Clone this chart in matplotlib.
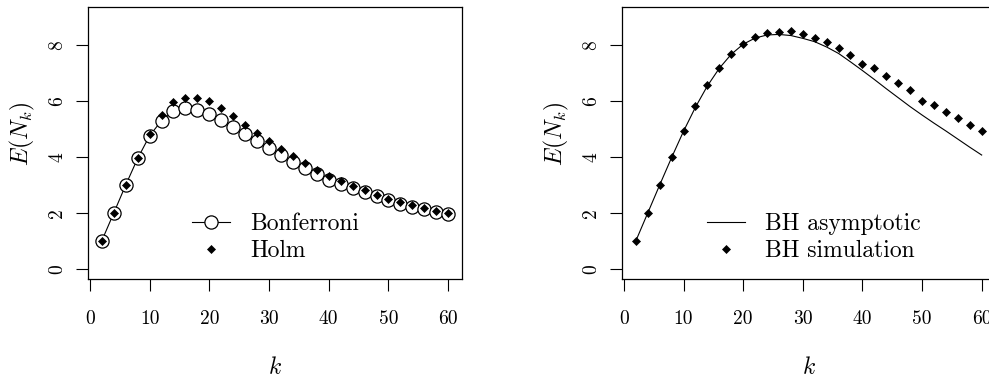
import numpy as np
import matplotlib
matplotlib.use('Agg')
import matplotlib.pyplot as plt

# data
k = np.arange(2, 61, 2)

bonferroni = [1.01, 2.00, 3.00, 3.95, 4.76, 5.30, 5.64, 5.74, 5.69, 5.54,
              5.33, 5.08, 4.82, 4.57, 4.32, 4.07, 3.82, 3.61, 3.39, 3.19,
              3.05, 2.88, 2.74, 2.60, 2.45, 2.33, 2.23, 2.13, 2.04, 1.95]
holm = [1.00, 2.00, 3.00, 3.96, 4.82, 5.51, 5.96, 6.11, 6.11, 5.99,
        5.74, 5.45, 5.15, 4.86, 4.56, 4.30, 4.02, 3.79, 3.55, 3.33,
        3.15, 2.98, 2.81, 2.65, 2.50, 2.38, 2.30, 2.18, 2.08, 2.00]

bh_asym = [1.00, 2.00, 3.00, 3.98, 4.92, 5.78, 6.54, 7.17, 7.67, 8.03,
           8.25, 8.36, 8.38, 8.34, 8.24, 8.12, 7.93, 7.70, 7.40, 7.09,
           6.77, 6.44, 6.12, 5.80, 5.50, 5.21, 4.93, 4.64, 4.35, 4.07]
bh_sim = [1.01, 2.00, 3.00, 4.00, 4.94, 5.81, 6.56, 7.19, 7.68, 8.04,
          8.29, 8.43, 8.48, 8.49, 8.39, 8.27, 8.10, 7.88, 7.64, 7.32,
          7.18, 6.90, 6.64, 6.38, 6.00, 5.86, 5.62, 5.39, 5.15, 4.92]

xticks = [0, 10, 20, 30, 40, 50, 60]
yticks = [0, 2, 4, 6, 8]

plt.rcParams['font.family'] = 'serif'
plt.rcParams['font.serif'] = ['cmr10']
plt.rcParams['mathtext.fontset'] = 'cm'
plt.rcParams['axes.unicode_minus'] = False

W, H = 989, 381
fig = plt.figure(figsize=(W / 100, H / 100), dpi=100)
ax1 = fig.add_axes([88 / W, 102 / H, 374 / W, 272 / H])
ax2 = fig.add_axes([622 / W, 102 / H, 373.5 / W, 272 / H])


def style(ax):
    ax.set_xlim(-0.32, 62.32)
    ax.set_ylim(-0.36, 9.36)
    ax.set_xticks(xticks)
    ax.set_xticklabels([str(t) for t in xticks])
    ax.set_yticks(yticks)
    ax.set_yticklabels([str(t) for t in yticks], rotation=90, va='center')
    ax.tick_params(axis='both', direction='out', length=8.5, width=0.8,
                   labelsize=14)
    ax.tick_params(axis='x', pad=14)
    ax.tick_params(axis='y', pad=7)
    for s in ax.spines.values():
        s.set_linewidth(0.9)
    ax.set_xlabel(r'$k$', fontsize=17)
    ax.set_ylabel(r'$E(N_k)$', fontsize=17)
    ax.xaxis.set_label_coords(0.5, -0.327)
    ax.xaxis.label.set_va('center')
    ax.yaxis.set_label_coords(-0.176, 0.535)
    ax.yaxis.label.set_va('center')


style(ax1)
ax1.plot(k, bonferroni, color='black', lw=0.8, marker='o', ms=9.5,
         mfc='white', mec='black', mew=0.9, label='Bonferroni')
ax1.plot(k, holm, ls='none', marker='D', ms=4.3, color='black',
         mew=0.5, label='Holm')
ax1.legend(loc='center left', bbox_to_anchor=(0.278, 0.152), frameon=False,
           fontsize=17, borderpad=0, borderaxespad=0, labelspacing=0.2,
           handlelength=1.6, handletextpad=0.85)

style(ax2)
ax2.plot(k, bh_asym, color='black', lw=0.8, label='BH asymptotic')
ax2.plot(k, bh_sim, ls='none', marker='D', ms=4.3, color='black',
         mew=0.5, label='BH simulation')
ax2.legend(loc='center left', bbox_to_anchor=(0.228, 0.152), frameon=False,
           fontsize=17, borderpad=0, borderaxespad=0, labelspacing=0.2,
           handlelength=1.6, handletextpad=0.85)

fig.savefig('out.png', dpi=100)
